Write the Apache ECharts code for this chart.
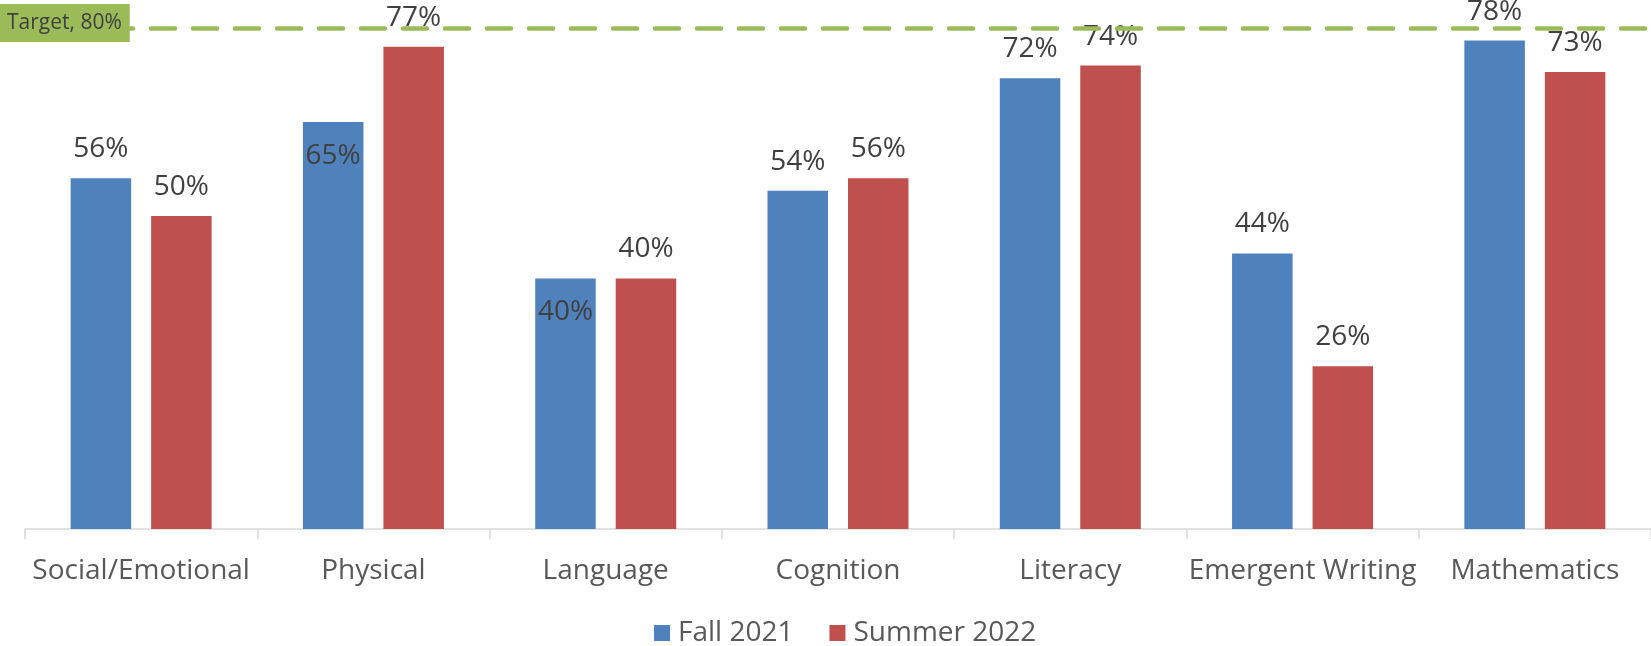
<!DOCTYPE html>
<html>
<head>
<meta charset="utf-8">
<script src="https://cdn.jsdelivr.net/npm/echarts@6/dist/echarts.min.js"></script>
<style>
  html,body{margin:0;padding:0;background:#fff;}
  #chart{width:1651px;height:646px;}
</style>
</head>
<body>
<div id="chart"></div>
<script>
// 类别和数据
var categories=['Social/Emotional','Physical','Language','Cognition','Literacy','Emergent Writing','Mathematics'];
var fall2021=[56,65,40,54,72,44,78];
var summer2022=[50,77,40,56,74,26,73];
var target=80;
// Fall 2021 labels drawn inside the bar top
var fallInside=[1,2];

var labelFont={fontFamily:'Open Sans',fontSize:28,color:'#404040'};

function buildData(values,inside){
    return values.map(function(v,i){
        if(inside.indexOf(i)>-1){
            return {value:v,label:{position:'insideTop',distance:20}};
        }
        return v;
    });
}

var myChart=echarts.init(document.getElementById('chart'));
var option={
    animation:false,
    textStyle:{fontFamily:'Open Sans'},
    grid:{left:25,right:0,top:3,bottom:117},
    legend:{
        left:649,
        top:614,
        itemWidth:16,
        itemHeight:16,
        itemGap:36,
        icon:'rect',
        textStyle:{fontFamily:'Open Sans',fontSize:28,color:'#595959',lineHeight:28,padding:[0,0,0,3]},
        data:['Fall 2021','Summer 2022']
    },
    xAxis:{
        type:'category',
        data:categories,
        axisLine:{lineStyle:{color:'#D9D9D9',width:1.5}},
        axisTick:{show:true,length:10,lineStyle:{color:'#D9D9D9',width:1.5}},
        axisLabel:{interval:0,margin:28,fontFamily:'Open Sans',fontSize:28,color:'#595959'}
    },
    yAxis:{
        type:'value',
        min:0,
        max:84,
        show:false,
        splitLine:{show:false}
    },
    series:[
        {
            name:'Fall 2021',
            type:'bar',
            barGap:'33%',
            barCategoryGap:'39.3%',
            itemStyle:{color:'#4F81BD'},
            label:Object.assign({show:true,position:'top',distance:15,formatter:'{c}%'},labelFont),
            data:buildData(fall2021,fallInside),
            markLine:{
                silent:true,
                symbol:'none',
                z:10,
                lineStyle:{color:'#9BBB59',width:4.5,type:[24,18],cap:'round'},
                label:{
                    show:true,
                    position:'start',
                    distance:25,
                    align:'left',
                    verticalAlign:'middle',
                    offset:[0,-5],
                    formatter:'Target, '+target+'%',
                    fontFamily:'Open Sans',
                    fontSize:21,
                    lineHeight:22,
                    color:'#404040',
                    backgroundColor:'#9BBB59',
                    padding:[9,8,7,7]
                },
                data:[{yAxis:target}]
            }
        },
        {
            name:'Summer 2022',
            type:'bar',
            itemStyle:{color:'#C0504D'},
            label:Object.assign({show:true,position:'top',distance:15,formatter:'{c}%'},labelFont),
            data:summer2022
        }
    ]
};
myChart.setOption(option);
</script>
</body>
</html>
